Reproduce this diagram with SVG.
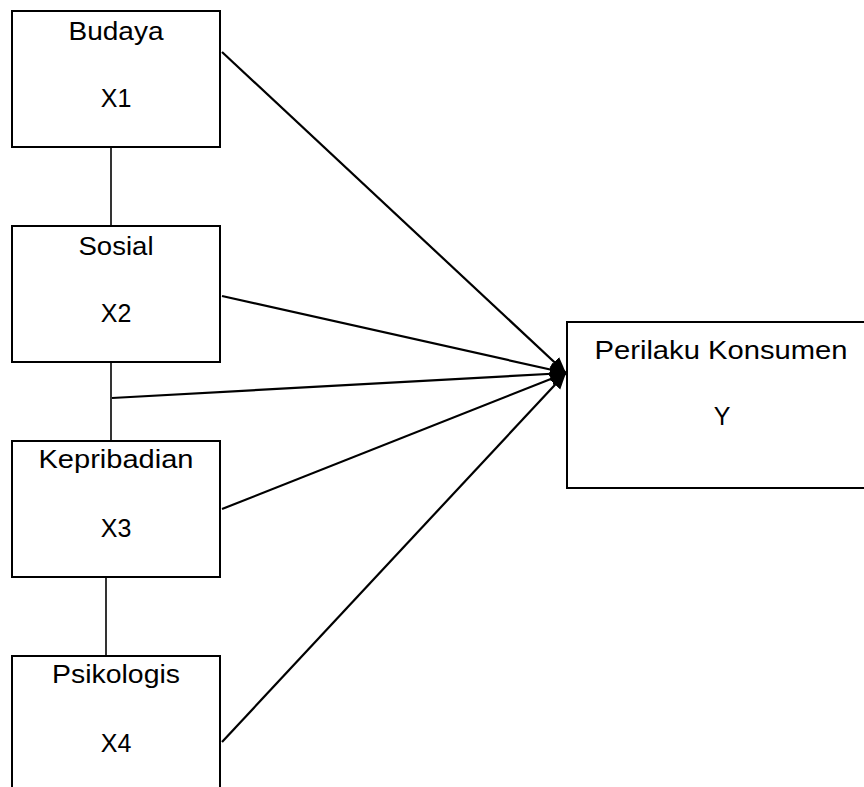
<svg xmlns="http://www.w3.org/2000/svg" width="864" height="787" viewBox="0 0 864 787">
<style>
.box{fill:#fff;stroke:#000;stroke-width:2}
.t{font-family:"Liberation Sans",Arial,sans-serif;font-size:25px;fill:#000;text-anchor:middle}
.arr{stroke:#000;stroke-width:2.2;fill:none;marker-end:url(#ah)}
.lnk{stroke:#000;stroke-width:1.6;fill:none}
</style>
<defs>
<marker id="ah" markerUnits="userSpaceOnUse" markerWidth="18" markerHeight="16" refX="16" refY="8" orient="auto">
<path d="M0,1 L16,8 L0,15 Z" fill="#000"/>
</marker>
</defs>
<rect width="864" height="787" fill="#fff"/>
<g id="connectors">
<line class="lnk" x1="111" y1="147" x2="111" y2="226"/>
<line class="lnk" x1="111" y1="362" x2="111" y2="441"/>
<line class="lnk" x1="106" y1="577" x2="106" y2="656"/>
<line class="arr" x1="222" y1="52" x2="566" y2="373"/>
<line class="arr" x1="222" y1="296" x2="566" y2="373"/>
<line class="arr" x1="112" y1="398" x2="566" y2="373"/>
<line class="arr" x1="222" y1="509" x2="566" y2="373"/>
<line class="arr" x1="222" y1="742" x2="566" y2="373"/>
</g>
<g id="budaya">
<rect class="box" x="12" y="11" width="208" height="136"/>
<text class="t" x="116" y="40" textLength="95" lengthAdjust="spacingAndGlyphs">Budaya</text>
<text class="t" x="116" y="107">X1</text>
</g>
<g id="sosial">
<rect class="box" x="12" y="226" width="208" height="136"/>
<text class="t" x="116" y="255" textLength="75" lengthAdjust="spacingAndGlyphs">Sosial</text>
<text class="t" x="116" y="322">X2</text>
</g>
<g id="kepribadian">
<rect class="box" x="12" y="441" width="208" height="136"/>
<text class="t" x="116" y="468" textLength="155" lengthAdjust="spacingAndGlyphs">Kepribadian</text>
<text class="t" x="116" y="537">X3</text>
</g>
<g id="psikologis">
<rect class="box" x="12" y="656" width="208" height="150"/>
<text class="t" x="116" y="683" textLength="128" lengthAdjust="spacingAndGlyphs">Psikologis</text>
<text class="t" x="116" y="752">X4</text>
</g>
<g id="perilaku">
<rect class="box" x="567" y="322" width="310" height="166"/>
<text class="t" x="721" y="359" textLength="253" lengthAdjust="spacingAndGlyphs">Perilaku Konsumen</text>
<text class="t" x="722" y="425">Y</text>
</g>
</svg>
